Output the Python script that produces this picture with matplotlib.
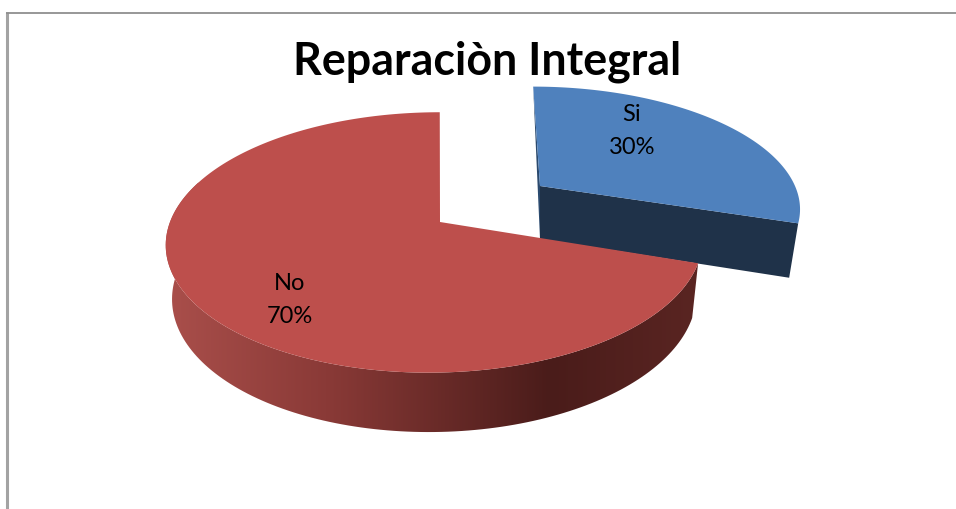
import numpy as np
import matplotlib
matplotlib.use('Agg')
import matplotlib.pyplot as plt
from matplotlib.colors import LinearSegmentedColormap
from matplotlib.patches import Polygon

title = 'Reparaciòn Integral'
categories = ['Si', 'No']
values = [30, 70]

W, H = 956, 509
K = 0.157  # perspective
VX = 475
DEPTH = 53


def project(ang, cx, cy, a, b, shift=0, shrink=0.977, low=False):
    # ang in degrees, clockwise from 12 o'clock
    u = np.sin(np.radians(ang))
    v = np.cos(np.radians(ang))
    s = 1 + K * v
    dx = (cx - VX + a * u) / s + VX - cx + shift
    dy = -b * v / s
    if low:
        return cx + shrink * dx, cy + shrink * dy + DEPTH / s
    return cx + dx, cy + dy


def arc(a0, a1, cx, cy, a, b, shift=0, shrink=0.977, low=False):
    angs = np.linspace(a0, a1, 200)
    x, y = project(angs, cx, cy, a, b, shift, shrink, low)
    return np.column_stack([x, y])


fig = plt.figure(figsize=(W / 100, H / 100), dpi=100)
ax = fig.add_axes([0, 0, 1, 1])
ax.set_xlim(0, W)
ax.set_ylim(H, 0)
ax.axis('off')

# frame
ax.plot([7, 7], [12, H], color='#a3a3a3', lw=2.2, solid_capstyle='butt')
ax.plot([6, W], [12.5, 12.5], color='#8f8f8f', lw=1.3, solid_capstyle='butt')

split = 360 * values[0] / sum(values)

# blue slice, pulled out
bc = (540, 186, 253, 115)
top = arc(0, split, *bc, shift=2, shrink=0.965)
low = arc(0, split, *bc, shift=2, shrink=0.965, low=True)
apex_low = (bc[0], bc[1] + DEPTH)
ax.add_patch(Polygon(np.vstack([[top[0]], [bc[:2]], [apex_low]]), fc='#2b4a6e', ec='none', zorder=2))
ax.add_patch(Polygon(np.vstack([[bc[:2]], [top[-1]], [low[-1]], [apex_low]]), fc='#1f3249', ec='none', zorder=2))
ax.add_patch(Polygon(np.vstack([[bc[:2]], top]), fc='#4f81bd', ec='none', zorder=3))

# red slice
rc = (440, 222, 265, 127)
r_top = arc(split, 360, *rc, shift=-5)
r_low = arc(split, 360, *rc, shift=-5, low=True)
keep = np.linspace(split, 360, 200) < 290  # back part of the rim is hidden
side = Polygon(np.vstack([r_top[keep], r_low[keep][::-1]]), fc='none', ec='none', zorder=4)
ax.add_patch(side)
shade = LinearSegmentedColormap.from_list('side', [
    (0.0, '#aa4f4b'), (0.3, '#8a3a37'), (0.72, '#4a1c1a'), (1.0, '#5a2522')])
grad = ax.imshow(np.linspace(0, 1, 256)[None, :], cmap=shade, extent=[165, 700, 440, 100],
                 aspect='auto', zorder=4)
grad.set_clip_path(side)
ax.set_xlim(0, W)
ax.set_ylim(H, 0)
ax.add_patch(Polygon(np.vstack([[rc[:2]], r_top]), fc='#bd4f4c', ec='none', zorder=5))

ax.text(487, 62, title, ha='center', va='center', fontsize=32.2, fontweight='bold',
        family='Lato', color='black', zorder=6)
ax.text(632, 131, f'{categories[0]}\n{values[0]}%', ha='center', va='center', fontsize=17,
        family='Lato', linespacing=1.75, zorder=6)
ax.text(290, 300, f'{categories[1]}\n{values[1]}%', ha='center', va='center', fontsize=17,
        family='Lato', linespacing=1.75, zorder=6)

fig.savefig('out.png', dpi=100)
